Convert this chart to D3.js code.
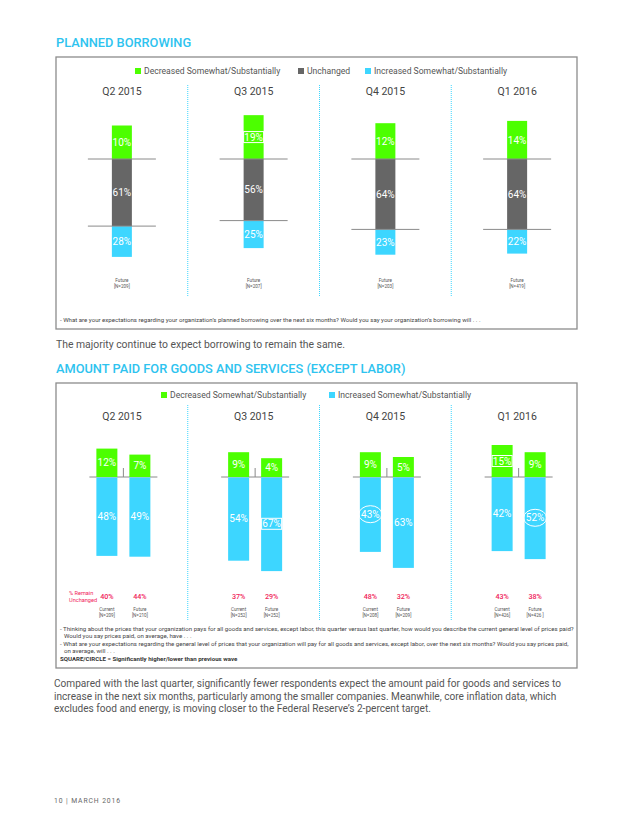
<!DOCTYPE html>
<html>
<head>
<meta charset="utf-8">
<script src="https://cdn.jsdelivr.net/npm/d3@7"></script>
<style>
  body { margin: 0; background: #fff; }
  svg { display: block; font-family: Roboto, "Open Sans", sans-serif; }
</style>
</head>
<body>
<svg id="canvas"></svg>
<script>
let width = 640;
let height = 828;

let quarters = ['Q2 2015', 'Q3 2015', 'Q4 2015', 'Q1 2016'];

// planned borrowing (future expectations)
let borrowDecreased = [10, 19, 12, 14];
let borrowUnchanged = [61, 56, 64, 64];
let borrowIncreased = [28, 25, 23, 22];
let borrowN = ['[N=209]', '[N=207]', '[N=203]', '[N=419]'];
let borrowDecMark = [null, 'square', null, null];

// amount paid for goods and services
let curDecreased = [12, 9, 9, 15];
let curIncreased = [48, 54, 43, 42];
let curUnchanged = [40, 37, 48, 43];
let futDecreased = [7, 4, 5, 9];
let futIncreased = [49, 67, 63, 52];
let futUnchanged = [44, 29, 32, 38];
let curN = ['[N=209]', '[N=252]', '[N=208]', '[N=426]'];
let futN = ['[N=210]', '[N=252]', '[N=209]', '[N=426 ]'];
let curDecMark = [null, null, null, 'square'];
let curIncMark = [null, null, 'circle', null];
let futDecMark = [null, null, null, null];
let futIncMark = [null, 'square', null, 'circle'];

let green = '#4cff00';
let cyan = '#3dd6ff';
let gray = '#666666';
let red = '#f0245a';
let titleBlue = '#2ec3ef';

let canvas = d3.select('#canvas').attr('width', width).attr('height', height);

let xScale = d3.scaleBand().domain(quarters).range([56, 583]);
let center = q => xScale(q) + xScale.bandwidth() / 2;

// ---------- helpers ----------
let drawBox = (y0, y1) => {
    canvas.append('rect')
        .attr('x', 56).attr('y', y0)
        .attr('width', 521).attr('height', y1 - y0)
        .attr('fill', 'none').attr('stroke', '#8c8c8c').attr('stroke-width', 1.3);
}

let drawTitle = (txt, y) => {
    canvas.append('text').attr('x', 56).attr('y', y)
        .attr('fill', titleBlue).attr('font-size', 12.8).attr('font-weight', 500)
        .text(txt);
}

let drawLegend = (items, y) => {
    let g = canvas.append('g');
    items.forEach(it => {
        g.append('rect').attr('x', it.x).attr('y', y - 6).attr('width', 6).attr('height', 6).attr('fill', it.color);
        g.append('text').attr('x', it.x + 9).attr('y', y).attr('font-size', 8.6).attr('fill', '#555').text(it.label);
    });
}

let drawQuarterHeads = (y, y0, y1) => {
    canvas.append('g').selectAll('text').data(quarters).enter().append('text')
        .attr('x', d => center(d)).attr('y', y)
        .attr('text-anchor', 'middle').attr('font-size', 10.5).attr('fill', '#444')
        .text(d => d);
    canvas.append('g').selectAll('line').data(quarters.slice(1)).enter().append('line')
        .attr('x1', d => xScale(d)).attr('x2', d => xScale(d))
        .attr('y1', y0).attr('y2', y1)
        .attr('stroke', cyan).attr('stroke-width', 1).attr('stroke-dasharray', '1,1');
}

let barLabel = (x, y, txt, mark) => {
    canvas.append('text').attr('x', x).attr('y', y + 3.6)
        .attr('text-anchor', 'middle').attr('font-size', 10).attr('fill', '#fff')
        .text(txt);
    if (mark === 'square') {
        canvas.append('rect').attr('x', x - 10).attr('y', y - 5.5).attr('width', 20).attr('height', 11)
            .attr('fill', 'none').attr('stroke', '#fff').attr('stroke-width', 1);
    } else if (mark === 'circle') {
        canvas.append('ellipse').attr('cx', x).attr('cy', y).attr('rx', 11.5).attr('ry', 8.5)
            .attr('fill', 'none').attr('stroke', '#fff').attr('stroke-width', 1);
    }
}

let smallLabel = (x, y, lines) => {
    let t = canvas.append('text').attr('x', x).attr('y', y)
        .attr('text-anchor', 'middle').attr('font-size', 4.6).attr('fill', '#555');
    lines.forEach((l, i) => t.append('tspan').attr('x', x).attr('dy', i ? 6 : 0).text(l));
}

// ---------- PLANNED BORROWING ----------
drawTitle('PLANNED BORROWING', 47);
drawBox(57, 329);
drawLegend([
    { x: 135, color: green, label: 'Decreased Somewhat/Substantially' },
    { x: 298, color: gray, label: 'Unchanged' },
    { x: 365, color: cyan, label: 'Increased Somewhat/Substantially' }
], 74);
drawQuarterHeads(95, 85, 297);

let base1 = 159;
let greenTop = d3.scaleLinear().domain([0, 20]).range([22, 45]);
let segTop = d3.scaleLinear().domain([0, 100]).range([0, 110]);
let barW1 = 20;

quarters.forEach((q, i) => {
    let cx = center(q);
    let gH = greenTop(borrowDecreased[i]);
    let uH = segTop(borrowUnchanged[i]);
    let iH = segTop(borrowIncreased[i]);
    canvas.append('rect').attr('x', cx - barW1 / 2).attr('y', base1 - gH).attr('width', barW1).attr('height', gH).attr('fill', green);
    canvas.append('rect').attr('x', cx - barW1 / 2).attr('y', base1).attr('width', barW1).attr('height', uH).attr('fill', gray);
    canvas.append('rect').attr('x', cx - barW1 / 2).attr('y', base1 + uH).attr('width', barW1).attr('height', iH).attr('fill', cyan);
    [base1, base1 + uH].forEach(y => {
        canvas.append('line').attr('x1', cx - 34).attr('x2', cx + 34).attr('y1', y).attr('y2', y)
            .attr('stroke', '#8a8a8a').attr('stroke-width', 1);
    });
    barLabel(cx, base1 - gH / 2, borrowDecreased[i] + '%', borrowDecMark[i]);
    barLabel(cx, base1 + uH / 2, borrowUnchanged[i] + '%', null);
    barLabel(cx, base1 + uH + iH / 2, borrowIncreased[i] + '%', null);
    smallLabel(cx, 282, ['Future', borrowN[i]]);
});

canvas.append('text').attr('x', 60).attr('y', 322).attr('font-size', 6.1).attr('fill', '#444')
    .text('- What are your expectations regarding your organization\u2019s planned borrowing over the next six months?  Would you say your organization\u2019s borrowing will . . .');

canvas.append('text').attr('x', 56).attr('y', 348).attr('font-size', 10.4).attr('fill', '#555')
    .text('The majority continue to expect borrowing to remain the same.');

// ---------- AMOUNT PAID ----------
drawTitle('AMOUNT PAID FOR GOODS AND SERVICES (EXCEPT LABOR)', 373);
drawBox(383, 668);
drawLegend([
    { x: 161, color: green, label: 'Decreased Somewhat/Substantially' },
    { x: 329, color: cyan, label: 'Increased Somewhat/Substantially' }
], 398);
drawQuarterHeads(420, 405, 620);

let base2 = 477;
let greenBot = d3.scaleLinear().domain([0, 20]).range([14, 38]);
let cyanBot = d3.scaleLinear().domain([0, 100]).range([40, 120]);
let sub = d3.scalePoint().domain(['Current', 'Future']).range([-15, 18]);
let barW2 = 21;

let subSeries = [
    { key: 'Current', dec: curDecreased, inc: curIncreased, unch: curUnchanged, n: curN, decMark: curDecMark, incMark: curIncMark },
    { key: 'Future', dec: futDecreased, inc: futIncreased, unch: futUnchanged, n: futN, decMark: futDecMark, incMark: futIncMark }
];

quarters.forEach((q, i) => {
    let c = center(q);
    let mid = c + (sub('Current') + sub('Future')) / 2;
    canvas.append('line').attr('x1', mid - 34).attr('x2', mid + 34).attr('y1', base2).attr('y2', base2)
        .attr('stroke', '#8a8a8a').attr('stroke-width', 1);
    canvas.append('line').attr('x1', mid).attr('x2', mid).attr('y1', base2 - 9).attr('y2', base2)
        .attr('stroke', '#8a8a8a').attr('stroke-width', 1);
    subSeries.forEach(s => {
        let cx = c + sub(s.key);
        let gH = greenBot(s.dec[i]);
        let cH = cyanBot(s.inc[i]);
        canvas.append('rect').attr('x', cx - barW2 / 2).attr('y', base2 - gH).attr('width', barW2).attr('height', gH).attr('fill', green);
        canvas.append('rect').attr('x', cx - barW2 / 2).attr('y', base2 + 0.5).attr('width', barW2).attr('height', cH).attr('fill', cyan);
        barLabel(cx, base2 - gH / 2, s.dec[i] + '%', s.decMark[i]);
        barLabel(cx, base2 + cH / 2, s.inc[i] + '%', s.incMark[i]);
        canvas.append('text').attr('x', cx).attr('y', 599).attr('text-anchor', 'middle')
            .attr('font-size', 7.2).attr('font-weight', 500).attr('fill', red).text(s.unch[i] + '%');
        smallLabel(cx, 611, [s.key, s.n[i]]);
    });
});

let rem = canvas.append('text').attr('x', 69).attr('y', 595).attr('font-size', 5.6).attr('fill', red);
rem.append('tspan').attr('x', 69).text('% Remain');
rem.append('tspan').attr('x', 69).attr('dy', 6.5).text('Unchanged');

let notes = [
    { x: 60, y: 631, t: '- Thinking about the prices that your organization pays for all goods and services, except labor, this quarter versus last quarter, how would you describe the current general level of prices paid?' },
    { x: 64, y: 638, t: 'Would you say prices paid, on average, have . . .' },
    { x: 60, y: 646, t: '- What are your expectations regarding the general level of prices that your organization will pay for all goods and services, except labor, over the next six months? Would you say prices paid,' },
    { x: 64, y: 653, t: 'on average, will . . .' }
];
canvas.append('g').selectAll('text').data(notes).enter().append('text')
    .attr('x', d => d.x).attr('y', d => d.y).attr('font-size', 6.1).attr('fill', '#444')
    .text(d => d.t);
canvas.append('text').attr('x', 60).attr('y', 661).attr('font-size', 6.1).attr('font-weight', 700).attr('fill', '#333')
    .text('SQUARE/CIRCLE = Significantly higher/lower than previous wave');

let para = [
    'Compared with the last quarter, significantly fewer respondents expect the amount paid for goods and services to',
    'increase in the next six months, particularly among the smaller companies. Meanwhile, core inflation data, which',
    'excludes food and energy, is moving closer to the Federal Reserve\u2019s 2-percent target.'
];
canvas.append('g').selectAll('text').data(para).enter().append('text')
    .attr('x', 54).attr('y', (d, i) => 687 + i * 12.5).attr('font-size', 10.1).attr('fill', '#555')
    .text(d => d);

canvas.append('text').attr('x', 54).attr('y', 803).attr('font-size', 6.8).attr('letter-spacing', 0.9).attr('fill', '#666')
    .text('10  |  MARCH 2016');
</script>
</body>
</html>
